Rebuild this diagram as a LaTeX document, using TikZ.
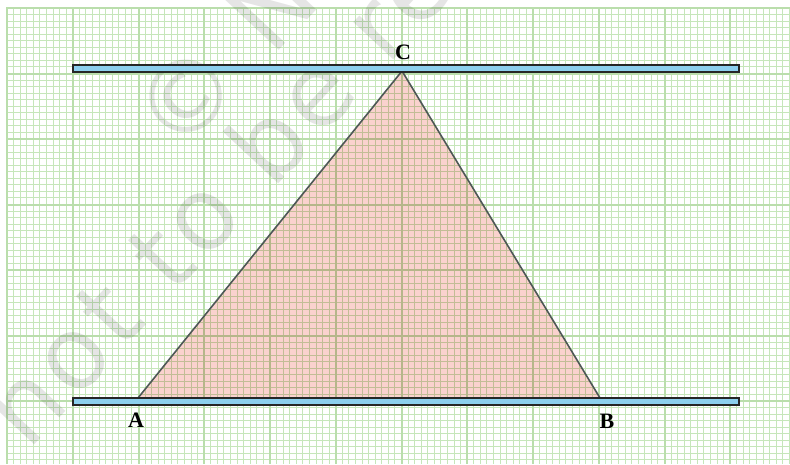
\documentclass[tikz,border=0pt]{standalone}
\usepackage{fontspec}
\setmainfont{Liberation Serif}
\newfontfamily\wmfont[LetterSpace=6]{DejaVu Sans}
\begin{document}
\begin{tikzpicture}[x=1pt,y=-1pt,
  minorline/.style={draw={rgb,255:red,198;green,230;blue,186},line width=1pt},
  majorline/.style={draw={rgb,255:red,186;green,222;blue,172},line width=2pt},
  barbox/.style={draw={rgb,255:red,38;green,38;blue,38},line width=2pt,fill={rgb,255:red,140;green,207;blue,238}},
  triedge/.style={draw={rgb,255:red,78;green,88;blue,86},line width=1.6pt,line join=miter},
  trifill/.style={fill={rgb,255:red,250;green,210;blue,206}},
  ptlabel/.style={font=\fontsize{22}{26}\selectfont\bfseries,inner sep=0pt},
  watermark/.style={font=\wmfont\fontsize{100}{100}\selectfont,text=black,opacity=0.1,inner sep=0pt,rotate=47,anchor=base west}]
\useasboundingbox (0,0) rectangle (790,464);
\clip (0,0) rectangle (790,464);
\fill[white] (0,0) rectangle (790,464);
% minor grid
\foreach \i in {0,...,119} \draw[minorline] ({7+\i*6.575},8) -- ({7+\i*6.575},464);
\foreach \j in {0,...,70} \draw[minorline] (7,{8+\j*6.55}) -- (790,{8+\j*6.55});
% major grid
\foreach \i in {0,...,11} \draw[majorline] ({7+\i*65.75},7) -- ({7+\i*65.75},464);
\foreach \j in {0,...,7} \draw[majorline] (6,{8+\j*65.5}) -- (790,{8+\j*65.5});
% watermark
\node[watermark] (wm1) at (28,452) {not to be republished};
\node[watermark] (wm2) at (178,158) {\textcopyright\ NCERT};
% triangle
\coordinate (A) at (138,398);
\coordinate (B) at (600,398);
\coordinate (C) at (402,71);
\begin{scope}[blend mode=multiply]
\fill[trifill] (A) -- (B) -- (C) -- cycle;
\end{scope}
\draw[triedge] (A) -- (B) -- (C) -- cycle;
% parallel bars
\draw[barbox] (73,65) rectangle (739,72);
\draw[barbox] (73,397.5) rectangle (739,404.5);
% labels
\node[ptlabel] (lC) at (403,52) {C};
\node[ptlabel] (lA) at (136,420) {A};
\node[ptlabel] (lB) at (607,421) {B};
\end{tikzpicture}
\end{document}
